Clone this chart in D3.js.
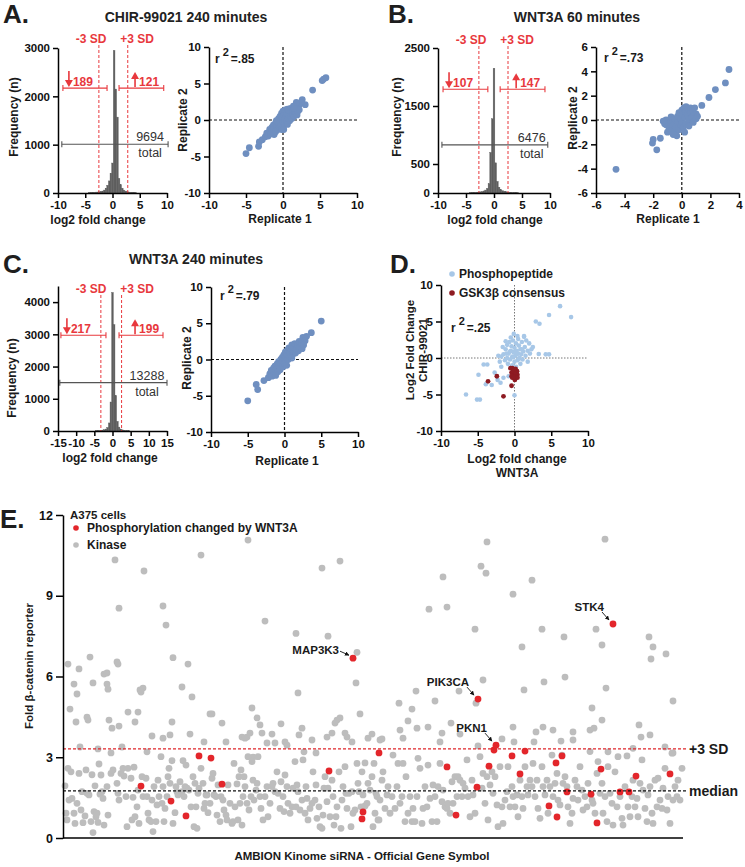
<!DOCTYPE html>
<html><head><meta charset="utf-8">
<script src="https://cdn.jsdelivr.net/npm/d3@7"></script>
<style>
body{margin:0;background:#fff;}
svg{display:block;font-family:"Liberation Sans",Arial,Helvetica,sans-serif;}
</style></head><body>
<svg id="fig" width="745" height="867"></svg>
<script>
// ================= DATA =================
// Histograms (log2 fold change bins)
const histBinWidthA = 0.3, histBinWidthB = 0.3, histBinWidthC = 0.45;
const histCentersA = [-4.2,-3.9,-3.6,-3.3,-3.0,-2.7,-2.4,-2.1,-1.8,-1.5,-1.2,-0.9,-0.6,-0.3,0,0.3,0.6,0.9,1.2,1.5,1.8,2.1,2.4,2.7,3.0,3.3,3.6,3.9,4.2];
const histCountsA  = [12,14,15,16,18,20,25,30,40,60,100,160,250,410,620,2950,2150,1570,300,170,100,60,40,25,20,16,15,14,12];
const histCentersB = [-4.2,-3.9,-3.6,-3.3,-3.0,-2.7,-2.4,-2.1,-1.8,-1.5,-1.2,-0.9,-0.6,-0.3,0,0.3,0.6,0.9,1.2,1.5,1.8,2.1,2.4,2.7,3.0,3.3,3.6,3.9,4.2];
const histCountsB  = [8,10,10,12,14,16,20,25,35,50,80,160,700,1280,2150,520,200,100,60,40,30,22,16,14,12,10,10,8,8];
const histCentersC = [-4.5,-4.05,-3.6,-3.15,-2.7,-2.25,-1.8,-1.35,-0.9,-0.45,0,0.45,0.9,1.35,1.8,2.25,2.7,3.15,3.6,4.05,4.5];
const histCountsC  = [12,15,18,22,28,40,60,110,250,900,4300,3300,1100,300,120,60,35,25,18,15,12];
const histXTicksAB = [-10,-5,0,5,10];
const histXTicksC  = [-15,-10,-5,0,5,10,15];
const histYTicksA = [0,1000,2000,3000];
const histYTicksB = [0,500,1500,2500];
const histYTicksC = [0,1000,2000,3000,4000];
const sdCutoffsA = [-2.5, 2.8], sdCutoffsB = [-2.7, 2.5], sdCutoffsC = [-3.2, 2.5];
const changedCountsA = [189, 121, 9694];
const changedCountsB = [107, 147, 6476];
const changedCountsC = [217, 199, 13288];
// bracket extents in data units: [downFrom, downTo, upFrom, upTo, totalFrom, totalTo, bracketLevel, totalLevel]
const bracketsA = [-9.1,-1.0,1.2,9.4,-9.3,10.2,2170,1010];
const bracketsB = [-9.1,-1.1,1.1,9.1,-9.3,9.6,1790,830];
const bracketsC = [-14.2,-1.8,1.8,13.9,-14.5,15,2970,1500];

// Replicate scatter plots [replicate1, replicate2]
const replicatesA = [[-5.0,-4.6],[-4.55,-3.8],[-3.3,-3.6],[-3.2,-3.0],[-2.8,-2.7],[-2.4,-2.3],[-2.2,-1.8],[-2.0,-2.2],[4.0,4.1],[5.3,5.4],[5.8,5.8],[5.5,5.6],[2.6,2.8],[3.0,2.1],[2.5,2.4],[2.2,2.1],[1.8,2.4],[2.0,1.5],
 [-1.8,-1.3],[-1.7,-1.9],[-1.5,-1.0],[-1.5,-1.6],[-1.3,-0.7],[-1.3,-1.3],[-1.2,-2.0],[-1.0,-0.4],[-1.0,-1.0],[-1.0,-1.6],[-0.8,-0.2],[-0.8,-0.8],[-0.7,-1.3],[-0.6,0.2],[-0.6,-0.4],[-0.5,-1.0],[-0.4,0.5],[-0.4,-0.1],[-0.3,-0.7],[-0.2,-1.3],[-0.2,0.9],[-0.1,0.3],[0,-0.3],[0,-0.9],[0,1.2],[0.1,0.6],[0.2,0],[0.2,-0.6],[0.3,1.0],[0.3,1.4],[0.4,0.4],[0.5,-0.2],[0.5,0.9],[0.6,1.5],[0.7,0.2],[0.8,0.8],[0.8,1.3],[0.9,-0.1],[1.0,0.5],[1.0,1.6],[1.1,1.1],[1.2,0.2],[1.3,0.8],[1.3,1.4],[1.4,1.9],[1.5,0.5],[1.6,1.2],[1.7,0.9],[1.8,1.6],[1.9,0.7],[2.0,1.2],[2.2,1.4],[0.6,-0.6],[-0.9,-0.1],[1.5,1.6],[0.1,-1.3]];
const replicatesB = [[-4.6,-4.05],[-2.05,-1.9],[-2.0,-1.6],[-1.75,-2.45],[-1.5,-1.5],[1.4,1.2],[1.9,1.85],[2.35,2.5],[3.05,3.05],[3.3,4.15],
 [-1.1,0],[-1.1,-0.4],[-1.0,-1.0],[-0.9,-0.6],[-0.8,-0.2],[-0.75,0.25],[-0.7,-0.8],[-0.6,-0.4],[-0.5,0.1],[-0.5,-1.0],[-0.4,-0.6],[-0.35,-1.3],[-0.3,-0.2],[-0.3,0.3],[-0.2,0.6],[-0.2,-0.8],[-0.1,0.1],[-0.1,-0.4],[0,0.8],[0,-0.2],[0.05,0.4],[0.1,-0.6],[0.15,1.0],[0.2,0.2],[0.25,0.7],[0.3,-0.3],[0.3,1.1],[0.4,0.4],[0.45,0.9],[0.5,0],[0.5,-0.5],[0.6,0.6],[0.6,1.0],[0.7,0.2],[0.75,0.8],[0.8,-0.2],[0.85,0.4],[0.9,1.0],[1.0,0.5],[1.0,0.1],[1.1,0.3],[0.2,-1.0],[-0.6,-1.2],[-1.2,-0.3],[-1.3,-0.1]];
const replicatesC = [[-5.0,-5.7],[-3.85,-3.45],[-3.65,-4.15],[-2.8,-2.9],[-2.2,-2.5],[5.0,5.3],[3.65,3.7],[3.0,3.2],[2.5,3.05],[2.8,2.6],
 [-2.0,-2.0],[-1.8,-1.5],[-1.7,-2.3],[-1.5,-1.2],[-1.5,-1.8],[-1.3,-0.9],[-1.2,-1.5],[-1.0,-0.6],[-1.0,-1.2],[-0.9,-1.7],[-0.8,-0.3],[-0.7,-0.9],[-0.6,-1.4],[-0.5,0],[-0.5,-0.6],[-0.3,0.3],[-0.3,-0.3],[-0.2,-1.0],[-0.1,0.6],[0,0],[0,-0.6],[0.1,1.0],[0.2,0.3],[0.2,-0.3],[0.3,0.7],[0.4,1.3],[0.5,0],[0.5,0.6],[0.6,1.6],[0.7,0.9],[0.8,0.3],[0.9,1.3],[1.0,2.0],[1.1,0.7],[1.2,1.1],[1.3,1.7],[1.4,2.2],[1.5,0.9],[1.6,1.4],[1.8,2.0],[1.9,1.2],[2.0,2.5],[2.1,1.7],[2.3,2.2],[2.4,1.5],[2.6,2.0],[1.0,0.2],[0.3,-0.8],[-1.2,-2.2]];
const r2Labels = ['.85', '.73', '.79', '.25'];
const scatterTicksAC = [-10,-5,0,5,10];
const scatterYTicksB = [-6,-4,-2,0,2,4,6];
const scatterXTicksB = [-6,-4,-2,0,2,4];

// Panel D: [WNT3A log2FC, CHIR-99021 log2FC]
const phosphopeptides = [[6.2,7.1],[4.7,5.9],[7.7,5.6],[2.9,5.0],[3.4,4.7],[-0.1,3.3],[1.3,2.9],[-1.2,2.3],[3.3,0.55],[4.25,0.5],[4.7,0.5],[-4.2,-0.9],[-3.7,-0.9],[-4.9,-2.3],[-2.7,-2.0],[-3.9,-3.6],[-3.1,-3.7],[-1.9,-3.4],[-6.6,-5.0],[-5.1,-5.7],[-4.7,-5.7],[0,-5.1],[-2.3,-3.0],[-1.5,-2.7],[-0.8,-2.5],[2.0,2.0],[2.5,1.5],[1.8,-0.5],[-1.8,-1.2],[-2.2,0.3],[0.5,2.6],[-0.5,2.8],
 [-1.5,0.5],[-1.3,-0.3],[-1.2,1.2],[-1.0,0],[-1.0,1.8],[-0.9,-0.8],[-0.8,0.6],[-0.7,2.2],[-0.6,-0.2],[-0.5,1.0],[-0.4,1.6],[-0.3,0.2],[-0.3,-1.0],[-0.2,2.4],[-0.1,0.8],[0,1.4],[0,-0.5],[0.1,0.3],[0.2,2.0],[0.3,1.0],[0.4,-0.3],[0.5,0.6],[0.6,1.7],[0.7,0],[0.8,1.2],[0.9,0.5],[1.0,2.2],[1.1,-0.2],[1.2,0.9],[1.4,1.5],[1.5,0.3],[1.6,2.4],[1.8,1.0],[2.1,0.6],[2.3,1.2],[-1.8,0.2],[-2.0,-0.5],[-1.6,1.5],[0.2,-1.2],[0.8,-0.8],[1.3,3.0],[0.4,3.0],[-0.6,0.9],[0.3,0.5],[-0.2,0.1],[0.6,-0.1],[-1.1,0.6],[1.0,1.2]];
const gsk3bConsensus = [[-3.6,-3.2],[-2.4,-2.5],[-0.4,-3.8],[-1.5,-5.25],[-0.55,-1.4],[-0.3,-1.4],[0.15,-1.5],[0.35,-1.8],[-0.4,-2.0],[-0.1,-2.3],[0.2,-2.5],[-0.3,-2.7],[0.05,-3.0],[0.4,-2.3],[-0.2,-1.8],[0.15,-2.0],[-0.05,-1.6],[0.4,-2.7],[-0.4,-2.5],[-0.15,-2.65]];

// Panel E: [gene rank, fold beta-catenin reporter]
const kinaseScores = [[52,10.33],[81,9.92],[138,10.51],[185,11.07],[259,10.03],[277,10.29],[56,8.54],[100,8.62],[103,7.91],[202,8.06],[233,7.6],[265,7.5],[294,6.9],[27,6.72],[110,6.7],[424,11.0],[542,11.1],[418,10.1],[423,9.84],[380,9.7],[469,9.58],[450,9.06],[366,8.5],[384,8.58],[412,7.76],[479,7.76],[533,7.76],[501,7.47],[459,7.1],[539,7.17],[586,7.47],[590,7.1],[603,6.84],[588,6.65],
[5,6.46],[16,6.28],[7,4.79],[11,5.72],[14,5.35],[13,4.31],[24,4.49],[25,4.38],[30,5.76],[35,3.31],[17,3.38],[36,2.75],[41,6.09],[44,6.13],[44,5.72],[45,5.53],[46,4.38],[49,4.08],[48,3.16],[54,6.54],[55,6.46],[56,4.16],[59,3.38],[65,4.68],[72,4.31],[75,4.68],[77,5.50],[80,5.57],[78,5.42],[84,3.2],[89,3.79],[100,3.71],[107,3.83],[109,4.31],[119,5.61],[125,6.46],[129,5.24],[127,3.86],[141,3.57],[147,4.61],[149,4.61],[159,4.27],[163,3.57],[179,3.75],[184,3.75],[189,4.83],[194,4.46],[197,4.2],[187,3.9],[182,3.71],[190,3.0],[199,3.9],[204,3.53],[209,3.86],[212,3.53],[218,4.24],[222,3.57],[224,3.45],[235,5.39],[236,3.83],[239,4.08],[241,3.2],[249,3.64],[253,3.16],[264,3.75],[269,3.9],[272,4.27],[274,4.38],[277,4.46],[282,3.9],[284,3.75],[289,3.57],[293,5.76],[297,4.61],[302,2.79],[305,3.71],[309,3.86],[317,3.64],
[420,5.87],[481,5.8],[502,5.98],[353,5.46],[396,5.46],[461,5.5],[543,5.57],[372,5.09],[336,5.01],[413,5.01],[349,4.79],[610,5.09],[529,4.83],[345,4.35],[539,4.38],[388,4.27],[337,4.01],[354,4.08],[365,4.12],[450,4.12],[473,3.94],[480,4.12],[490,4.01],[510,3.94],[527,4.01],[531,4.08],[576,4.2],[379,3.9],[397,3.86],[587,3.83],[578,3.75],[319,3.68],[340,3.71],[377,3.57],[439,3.68],[451,3.57],[471,3.57],[498,3.6],[510,3.64],[415,3.42],[545,3.2],[602,3.38],[610,3.16],[570,3.33],
[2,1.94],[3,0.92],[4,0.67],[5,2.59],[8,2.46],[6,1.41],[9,1.47],[11,0.92],[12,0.54],[14,1.29],[16,2.40],[18,1.04],[19,1.72],[20,0.57],[22,0.82],[23,2.53],[24,1.66],[26,1.60],[28,0.61],[29,2.35],[30,0.20],[31,0.98],[32,1.94],[33,0.79],[34,0.92],[35,0.58],[37,1.63],[39,1.72],[38,2.34],[40,1.47],[41,0.48],[44,1.91],[45,0.85],[48,2.40],[50,2.53],[54,2.03],[55,1.66],[56,1.41],[58,2.40],[60,2.59],[61,2.30],[63,1.54],[64,0.42],[65,2.59],[68,2.22],[69,0.67],[70,1.51],[71,2.63],[72,0.79],[74,1.16],[75,1.78],[76,0.54],[79,2.28],[80,1.54],[83,2.22],[84,1.54],[85,0.92],[86,0.67],[88,0.61],[89,1.41],[90,0.24],[91,1.91],[93,0.61],[94,1.23],[95,2.15],[96,1.54],[98,3.02],[99,1.29],[100,1.91],[101,0.61],[102,1.10],[104,1.54],[105,2.28],[106,2.59],[107,2.03],[109,2.87],[110,0.54],[112,0.94],[113,1.91],[114,1.72],[115,1.60],[117,2.09],[119,1.72],[120,2.87],[121,1.54],[122,1.91],[123,2.71],[124,1.85],[126,1.78],[128,1.16],[130,2.28],[131,0.42],[132,2.03],[133,1.16],[134,0.36],[135,1.66],[136,1.85],[138,2.59],[140,2.03],[141,1.10],[142,1.29],[143,1.60],[144,1.60],[145,0.94],[147,1.29],[149,2.22],[150,2.40],[151,1.60],[153,1.54],[154,0.85],[155,1.97],[157,0.61],[158,1.54],[160,1.41],[161,1.04],[163,0.85],[164,0.67],[165,1.97],[167,1.29],[169,0.54],[170,0.61],[171,2.77],[172,1.16],[174,2.01],[175,0.67],[176,2.28],[177,1.29],[178,2.53],[179,0.48],[180,1.54],[181,2.28],[182,1.91],[184,1.29],[185,3.02],[186,1.04],[188,1.54],[189,2.84],[190,2.15],[191,1.41],[193,1.78],[194,2.03],[195,3.02],[197,1.54],[198,1.10],[200,0.67],[202,1.54],[204,1.91],[205,0.79],[207,1.29],[209,1.91],[210,2.03],[212,1.72],[214,2.46],[215,1.66],[217,1.10],[218,2.09],[220,1.54],[221,0.98],[222,2.34],[224,1.91],[225,1.29],[227,0.92],[229,1.16],[230,1.85],[232,2.84],[233,1.16],[234,1.97],[235,1.72],[237,1.04],[239,1.41],[240,2.90],[242,0.92],[243,1.91],[244,1.47],[245,0.67],[247,1.10],[249,1.29],[250,2.46],[252,1.41],[253,1.97],[254,0.73],[256,1.16],[257,0.42],[259,0.36],[260,0.85],[261,1.85],[262,2.28],[264,1.35],[265,1.85],[267,0.79],[269,2.15],[270,1.54],[271,0.48],[273,0.79],[274,1.16],[276,2.46],[278,0.36],[279,1.41],[280,1.91],[282,2.65],[283,1.66],[284,1.10],[286,1.66],[288,0.42],[289,1.72],[290,0.92],[292,1.04],[294,2.77],[295,2.03],[296,1.72],[298,1.16],[299,2.46],[300,1.60],[302,1.19],[304,1.29],[305,2.03],[307,1.78],[309,2.28],[310,0.42],[312,0.92],[314,1.54],[315,0.67],
[311,2.77],[313,1.66],[316,0.67],[317,1.41],[319,2.15],[320,2.46],[322,1.10],[324,1.60],[325,1.91],[327,0.92],[329,1.54],[330,3.08],[332,1.10],[334,1.91],[335,2.77],[337,1.29],[339,1.54],[340,2.77],[342,0.61],[343,2.28],[345,0.92],[347,1.54],[349,0.61],[350,1.10],[352,0.61],[354,1.54],[355,2.96],[357,2.59],[359,0.54],[360,1.10],[362,1.91],[364,1.16],[365,2.71],[367,1.47],[369,0.61],[370,1.97],[372,1.54],[374,0.61],[375,1.91],[377,2.77],[379,1.35],[380,1.78],[382,1.16],[384,1.10],[385,1.29],[387,0.92],[389,2.09],[390,1.29],[392,2.28],[394,1.54],[395,2.28],[397,2.15],[399,1.54],[400,2.03],[402,1.85],[404,2.90],[405,1.54],[407,0.79],[409,2.15],[410,1.60],[412,0.92],[417,3.02],[419,1.85],[420,2.40],[422,1.29],[424,2.28],[425,0.67],[427,1.97],[429,2.46],[430,1.66],[432,2.28],[434,1.23],[435,0.42],[437,2.65],[439,1.16],[440,0.54],[442,1.41],[444,1.72],[445,2.65],[447,1.16],[449,1.91],[450,1.54],[452,1.16],[454,1.60],[455,0.79],[457,2.15],[459,1.54],[460,1.10],[462,2.65],[464,1.91],[465,1.60],[467,2.15],[469,1.91],[470,2.77],[472,1.54],[474,2.15],[475,1.10],[477,0.73],[479,2.65],[480,1.91],[482,1.60],[484,2.15],[485,0.92],[487,1.91],[489,3.08],[490,1.54],[492,2.03],[494,2.40],[495,1.41],[497,1.23],[499,3.08],[500,2.03],[502,2.28],[504,1.91],[505,1.16],[507,0.54],[509,0.92],[510,1.47],[512,2.15],[514,1.91],[515,1.41],[517,2.65],[519,1.78],[520,1.04],[522,1.54],[524,1.16],[525,2.03],[527,3.21],[529,1.41],[530,1.29],[532,0.92],[534,2.40],[535,2.84],[537,1.66],[539,2.03],[540,0.92],[542,1.54],[544,0.61],[545,2.65],[547,1.66],[549,1.29],[550,0.48],[552,2.46],[554,1.16],[555,3.02],[557,1.54],[559,0.73],[560,0.48],[562,1.91],[564,3.05],[565,1.16],[567,0.79],[569,1.54],[570,2.15],[572,1.16],[574,1.47],[575,0.79],[577,2.03],[579,2.90],[580,1.78],[582,1.10],[584,0.61],[585,1.60],[587,1.91],[589,0.92],[590,0.54],[592,2.15],[594,1.16],[595,2.22],[597,1.41],[599,1.10],[600,1.85],[602,2.59],[604,1.04],[605,1.54],[607,0.54],[609,3.15],[610,1.41],[612,1.91],[614,1.54],[615,2.15],[617,1.41],[619,2.59]];
const wntChangedScores = [[78,1.93],[108,1.37],[123,0.82],[136,3.05],[148,2.97],[159,2.0],[266,2.49],[290,6.68],[300,0.97],[299,0.71],[316,3.16],[384,2.64],[393,0.85],[414,1.89],[415,5.16],[426,2.67],[431,3.27],[433,3.45],[449,3.05],[457,2.38],[462,3.23],[486,1.19],[493,2.79],[494,0.78],[499,3.05],[504,1.71],[528,1.63],[534,0.56],[538,2.56],[550,7.95],[557,1.71],[566,1.71],[573,2.30],[607,2.38]];
const labeledGenes = ['MAP3K3','STK4','PIK3CA','PKN1'];
const labeledRanks = [290, 550, 415, 433];
const foldTicks = [0,3,6,9,12];
const plus3SD = 3.31, medianFold = 1.75;

// ================= DRAWING =================
const svg = d3.select('#fig');
const SD_RED = '#e8383d', HIST_GRAY = '#5e5e5e', REP_BLUE = '#6f8fc0';
const LIGHT_BLUE = '#a7c7e7', DARK_RED = '#8e1b22', KIN_GRAY = '#bdbdbd', WNT_RED = '#e3262b';
const fmt = d => String(d);

function styleAxis(g, fs){
  g.attr('font-family', null).attr('font-size', null);
  g.select('.domain').attr('stroke','#000').attr('stroke-width',1.5);
  g.selectAll('.tick line').attr('stroke','#000').attr('stroke-width',1.5);
  g.selectAll('.tick text').attr('fill','#111').attr('font-size', fs+'px').attr('font-weight','bold');
}
function txt(x, y, s, o = {}){
  const t = svg.append('text').attr('x', x).attr('y', y).text(s)
    .attr('font-size', (o.size || 12) + 'px').attr('font-weight', o.weight || 'bold')
    .attr('fill', o.fill || '#1a1a1a').attr('text-anchor', o.anchor || 'start');
  return t;
}
function vtxt(x, y, s, size = 12){
  svg.append('text').attr('transform', `translate(${x},${y}) rotate(-90)`)
    .attr('text-anchor','middle').attr('dy','0.35em').attr('font-size', size+'px')
    .attr('font-weight','bold').attr('fill','#1a1a1a').text(s);
}
function bracket(g, x1, x2, y, color){
  g.append('line').attr('x1',x1).attr('x2',x2).attr('y1',y).attr('y2',y).attr('stroke',color).attr('stroke-width',1.1);
  [x1,x2].forEach(x => g.append('line').attr('x1',x).attr('x2',x).attr('y1',y-3).attr('y2',y+3).attr('stroke',color).attr('stroke-width',1.1));
}
function arrow(g, x, yFrom, yTo, color){
  const dir = yTo > yFrom ? 1 : -1;
  g.append('line').attr('x1',x).attr('x2',x).attr('y1',yFrom).attr('y2',yTo - dir*5).attr('stroke',color).attr('stroke-width',1.6);
  g.append('path').attr('d', `M${x-4},${yTo-dir*7}L${x+4},${yTo-dir*7}L${x},${yTo}Z`).attr('fill',color);
}

function histogramPanel(p){
  const x = d3.scaleLinear().domain(p.xDomain).range([p.left, p.right]);
  const y = d3.scaleLinear().domain(p.yDomain).range([p.bottom, p.top]);
  const g = svg.append('g');
  const bw = p.binWidth;
  g.selectAll('rect').data(p.centers.map((c,i) => ({c, n: p.counts[i]}))).join('rect')
    .attr('x', d => x(d.c - bw/2)).attr('width', d => x(d.c + bw/2) - x(d.c - bw/2))
    .attr('y', d => y(d.n)).attr('height', d => y(0) - y(d.n)).attr('fill', HIST_GRAY)
    .attr('stroke', HIST_GRAY).attr('stroke-width', 0.4);
  p.sd.forEach(v => g.append('line').attr('x1', x(v)).attr('x2', x(v)).attr('y1', p.sdTop).attr('y2', y(0))
    .attr('stroke', SD_RED).attr('stroke-width', 1).attr('stroke-dasharray','3,2'));
  txt(p.left + 33, p.sdLabelY, '-3 SD', {anchor:'middle', fill: SD_RED});
  txt(p.left + 79, p.sdLabelY, '+3 SD', {anchor:'middle', fill: SD_RED});
  const b = p.brackets;
  const by = y(b[6]);
  bracket(g, x(b[0]), x(b[1]), by, SD_RED);
  bracket(g, x(b[2]), x(b[3]), by, SD_RED);
  const a1 = x(b[0]) + 6, a2 = x(b[2]) + 16;
  arrow(g, a1, by - 17, by - 1, SD_RED);
  arrow(g, a2, by - 1, by - 16, SD_RED);
  txt(a1 + 4, by - 2, p.changed[0], {fill: SD_RED});
  txt(a2 + 4, by - 2, p.changed[1], {fill: SD_RED});
  const ty = y(b[7]);
  bracket(g, x(b[4]), x(b[5]), ty, '#555');
  txt(x(b[5]) - p.totalOffset, ty - 3, p.changed[2], {anchor:'middle', weight:'normal', fill:'#333', size:12.5});
  txt(x(b[5]) - p.totalOffset, ty + 13, 'total', {anchor:'middle', weight:'normal', fill:'#333', size:12.5});
  const gx = svg.append('g').attr('transform', `translate(0,${p.bottom})`)
    .call(d3.axisBottom(x).tickValues(p.xTicks).tickSize(5).tickSizeOuter(0).tickFormat(fmt));
  styleAxis(gx, 11.5);
  const gy = svg.append('g').attr('transform', `translate(${p.left},0)`)
    .call(d3.axisLeft(y).tickValues(p.yTicks).tickSize(5).tickSizeOuter(0).tickFormat(fmt));
  styleAxis(gy, 11.5);
  vtxt(p.yLabelX, p.yLabelY, 'Frequency (n)');
  txt(p.xLabelX, p.xLabelY, 'log2 fold change', {anchor:'middle'});
}

function r2(x, y, val){
  const t = svg.append('text').attr('x', x).attr('y', y).attr('font-size','12px').attr('font-weight','bold').attr('fill','#1a1a1a');
  t.append('tspan').text('r');
  t.append('tspan').attr('dx', 3).attr('dy', -7).attr('font-size','11px').text('2');
  t.append('tspan').attr('dx', 2).attr('dy', 7).text('=' + val);
}

function scatterPanel(p){
  const x = d3.scaleLinear().domain(p.xDomain).range([p.left, p.right]);
  const y = d3.scaleLinear().domain(p.yDomain).range([p.bottom, p.top]);
  const g = svg.append('g');
  const dash = p.zeroStyle;
  g.append('line').attr('x1', x(0)).attr('x2', x(0)).attr('y1', p.top).attr('y2', p.bottom)
    .attr('stroke', dash.color).attr('stroke-width', dash.w).attr('stroke-dasharray', dash.d);
  g.append('line').attr('x1', p.left).attr('x2', p.right).attr('y1', y(0)).attr('y2', y(0))
    .attr('stroke', dash.color).attr('stroke-width', dash.w).attr('stroke-dasharray', dash.d);
  p.series.forEach(s => {
    g.append('g').selectAll('circle').data(s.data).join('circle')
      .attr('cx', d => x(d[0])).attr('cy', d => y(d[1])).attr('r', s.r).attr('fill', s.color);
  });
  const gx = svg.append('g').attr('transform', `translate(0,${p.bottom})`)
    .call(d3.axisBottom(x).tickValues(p.xTicks).tickSize(5).tickSizeOuter(0).tickFormat(fmt));
  styleAxis(gx, 11.5);
  const gy = svg.append('g').attr('transform', `translate(${p.left},0)`)
    .call(d3.axisLeft(y).tickValues(p.yTicks).tickSize(5).tickSizeOuter(0).tickFormat(fmt));
  styleAxis(gy, 11.5);
  r2(p.left + p.r2dx, p.top + p.r2dy, p.r2);
}

// Panel letters & titles
[['A.',3,23],['B.',388,23],['C.',3,273],['D.',390,273],['E.',0,528]].forEach(l =>
  txt(l[1], l[2], l[0], {size: 26, fill:'#1e1e1e'}));
txt(186, 22, 'CHIR-99021 240 minutes', {size:14, anchor:'middle', fill:'#222'});
txt(577, 22, 'WNT3A 60 minutes', {size:14, anchor:'middle', fill:'#222'});
txt(196, 264, 'WNT3A 240 minutes', {size:14, anchor:'middle', fill:'#222'});

// Histograms
histogramPanel({centers: histCentersA, counts: histCountsA, binWidth: histBinWidthA, xDomain:[-10,10], yDomain:[0,3000],
  left:58, right:167, top:48, bottom:193, sd: sdCutoffsA, sdTop:45, sdLabelY:43, brackets: bracketsA, changed: changedCountsA,
  totalOffset:18, xTicks: histXTicksAB, yTicks: histYTicksA, yLabelX:14, yLabelY:117, xLabelX:98, xLabelY:224});
histogramPanel({centers: histCentersB, counts: histCountsB, binWidth: histBinWidthB, xDomain:[-10,10], yDomain:[0,2500],
  left:438, right:550, top:48, bottom:193, sd: sdCutoffsB, sdTop:46, sdLabelY:44, brackets: bracketsB, changed: changedCountsB,
  totalOffset:16, xTicks: histXTicksAB, yTicks: histYTicksB, yLabelX:397, yLabelY:117, xLabelX:495, xLabelY:224});
histogramPanel({centers: histCentersC, counts: histCountsC, binWidth: histBinWidthC, xDomain:[-15,15], yDomain:[0,4500],
  left:58, right:167, top:286, bottom:431, sd: sdCutoffsC, sdTop:295, sdLabelY:293, brackets: bracketsC, changed: changedCountsC,
  totalOffset:20, xTicks: histXTicksC, yTicks: histYTicksC, yLabelX:12, yLabelY:378, xLabelX:110, xLabelY:462});

// Replicate scatters
const blackDash = {color:'#111', w:1.2, d:'3,2'};
scatterPanel({xDomain:[-10,10], yDomain:[-10,10], left:209, right:357, top:47, bottom:193, zeroStyle: blackDash,
  series:[{data: replicatesA, r:3.4, color: REP_BLUE}], xTicks: scatterTicksAC, yTicks: scatterTicksAC, r2: r2Labels[0], r2dx:6, r2dy:16});
vtxt(183, 120, 'Replicate 2'); txt(280, 223, 'Replicate 1', {anchor:'middle'});
scatterPanel({xDomain:[-6,4], yDomain:[-6,6], left:596, right:739, top:47, bottom:193, zeroStyle: blackDash,
  series:[{data: replicatesB, r:3.4, color: REP_BLUE}], xTicks: scatterXTicksB, yTicks: scatterYTicksB, r2: r2Labels[1], r2dx:8, r2dy:15});
vtxt(573, 118, 'Replicate 2'); txt(668, 223, 'Replicate 1', {anchor:'middle'});
scatterPanel({xDomain:[-10,10], yDomain:[-10,10], left:211, right:358, top:287, bottom:432, zeroStyle: blackDash,
  series:[{data: replicatesC, r:3.4, color: REP_BLUE}], xTicks: scatterTicksAC, yTicks: scatterTicksAC, r2: r2Labels[2], r2dx:9, r2dy:13});
vtxt(187, 358, 'Replicate 2'); txt(287, 465, 'Replicate 1', {anchor:'middle'});

// Panel D
scatterPanel({xDomain:[-10,10], yDomain:[-10,10], left:441, right:588, top:285, bottom:431, zeroStyle:{color:'#777', w:1, d:'1.5,1.5'},
  series:[{data: phosphopeptides, r:2.3, color: LIGHT_BLUE},{data: gsk3bConsensus, r:2.4, color: DARK_RED}],
  xTicks: scatterTicksAC, yTicks: scatterTicksAC, r2: r2Labels[3], r2dx:10, r2dy:47});
vtxt(410, 350, 'Log2 Fold Change', 11.5); vtxt(423, 350, 'CHIR-99021', 11.5);
txt(517, 463, 'Log2 fold change', {anchor:'middle'}); txt(517, 477, 'WNT3A', {anchor:'middle'});
svg.append('circle').attr('cx', 452).attr('cy', 274).attr('r', 2.8).attr('fill', LIGHT_BLUE);
svg.append('circle').attr('cx', 452).attr('cy', 293).attr('r', 2.8).attr('fill', DARK_RED);
txt(459, 278, 'Phosphopeptide'); txt(459, 297, 'GSK3\u03B2 consensus');

// Panel E
const ex = d3.scaleLinear().domain([0, 620]).range([63, 683]);
const ey = d3.scaleLinear().domain([0, 12]).range([838, 515]);
const ge = svg.append('g');
ge.selectAll('circle.k').data(kinaseScores).join('circle').attr('class','k')
  .attr('cx', d => ex(d[0])).attr('cy', d => ey(d[1])).attr('r', 3.4).attr('fill', KIN_GRAY);
ge.selectAll('circle.w').data(wntChangedScores).join('circle').attr('class','w')
  .attr('cx', d => ex(d[0])).attr('cy', d => ey(d[1])).attr('r', 3.4).attr('fill', WNT_RED);
ge.append('line').attr('x1', 63).attr('x2', 687).attr('y1', ey(plus3SD)).attr('y2', ey(plus3SD))
  .attr('stroke', '#e0262b').attr('stroke-width', 1.3).attr('stroke-dasharray','3,2');
ge.append('line').attr('x1', 63).attr('x2', 687).attr('y1', ey(medianFold)).attr('y2', ey(medianFold))
  .attr('stroke', '#111').attr('stroke-width', 1.3).attr('stroke-dasharray','3,2');
txt(689, ey(plus3SD) + 5, '+3 SD', {size:14});
txt(689, ey(medianFold) + 5, 'median', {size:14});
ge.append('line').attr('x1', 63).attr('x2', 683).attr('y1', 838).attr('y2', 838).attr('stroke','#000').attr('stroke-width',1.5);
const gey = svg.append('g').attr('transform','translate(63,0)')
  .call(d3.axisLeft(ey).tickValues(foldTicks).tickSize(7).tickSizeOuter(0).tickFormat(fmt));
styleAxis(gey, 12.5);
vtxt(29, 666, 'Fold \u03B2-catenin reporter', 11.5);
txt(362, 860, 'AMBION Kinome siRNA - Official Gene Symbol', {anchor:'middle', size:11.5});
// legend
txt(70, 519, 'A375 cells', {size:11.5});
svg.append('circle').attr('cx', 76).attr('cy', 528).attr('r', 2.8).attr('fill', WNT_RED);
svg.append('circle').attr('cx', 76).attr('cy', 545).attr('r', 2.8).attr('fill', KIN_GRAY);
txt(87, 532, 'Phosphorylation changed by WNT3A', {size:12});
txt(87, 549, 'Kinase', {size:12});
// gene labels with arrows
const defs = svg.append('defs');
defs.append('marker').attr('id','ah').attr('viewBox','0 0 10 10').attr('refX',9).attr('refY',5)
  .attr('markerWidth',5).attr('markerHeight',5).attr('orient','auto')
  .append('path').attr('d','M0,0L10,5L0,10Z').attr('fill','#111');
labeledGenes.forEach((name, i) => {
  const pt = wntChangedScores.find(d => d[0] === labeledRanks[i]);
  const px = ex(pt[0]), py = ey(pt[1]);
  const flat = name === 'MAP3K3';
  const sx = px - (flat ? 13 : 11), sy = py - (flat ? 7 : 12);
  svg.append('line').attr('x1', sx).attr('y1', sy).attr('x2', px - 4).attr('y2', py - (flat ? 3 : 4))
    .attr('stroke','#111').attr('stroke-width',0.9).attr('marker-end','url(#ah)');
  txt(flat ? sx - 1 : sx + 2, flat ? py - 4 : py - 13, name, {anchor:'end', size:11.5});
});
</script></body></html>
